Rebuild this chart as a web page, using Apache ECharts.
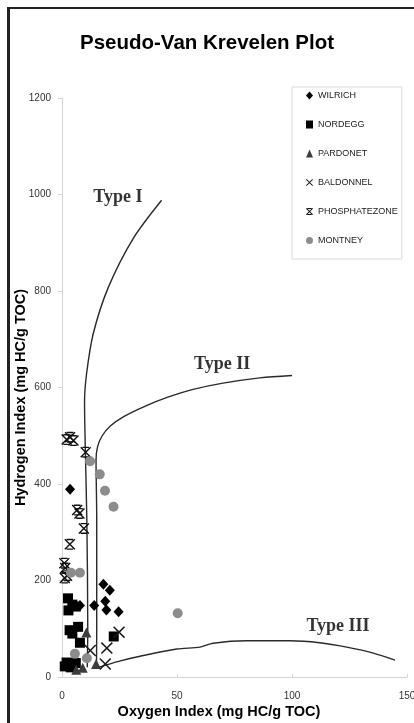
<!DOCTYPE html>
<html>
<head>
<meta charset="utf-8">
<script src="https://cdn.jsdelivr.net/npm/echarts@6/dist/echarts.min.js"></script>
<style>
html,body{margin:0;padding:0;background:#fff;}
#chart{width:414px;height:723px;}
</style>
</head>
<body>
<div id="chart"></div>
<script>
// ---- data ----
const xTicks = [0, 50, 100, 150];
const yTicks = [0, 200, 400, 600, 800, 1000, 1200];
const seriesNames = ['WILRICH', 'NORDEGG', 'PARDONET', 'BALDONNEL', 'PHOSPHATEZONE', 'MONTNEY'];

const wilrich = [[3.5,389],[18,192],[20.8,180],[18.8,157],[14,148],[7.8,148],[19.3,139],[24.6,135]];
const nordegg = [[2.6,163],[4.5,150],[2.8,138],[6,146],[3.3,97],[7,104],[4.5,90],[22.5,84],[7.8,71],[2,30],[6,29],[3.8,20],[1.2,22]];
const pardonet = [[10.6,92],[9,19],[14.8,27],[6.2,15]];
const baldonnel = [[24.8,93],[12.3,55],[19.5,60],[18.8,27]];
const phosphatezone = [[2,492],[3.5,497],[5,490],[10.3,466],[6.6,346],[7.6,339],[9.5,308],[3.4,275],[1,236],[1.4,226],[1.2,205],[2.2,210]];
const montney = [[12.2,447],[16.4,420],[18.7,386],[22.4,353],[3.9,216],[7.8,216],[5.6,48],[10.8,39],[50.3,132]];

const typeI = [[11,20],[11.2,100],[10.8,325],[10.1,480],[9.8,570],[10.7,629],[13.6,712],[20.1,807],[31,909],[43.3,988]];
const typeII = [[15,25],[15.1,100],[15.1,325],[14.8,450],[15.5,478],[17.5,500],[21,520],[27,540],[36,561],[46,580],[57,596],[70,609],[86,620],[100,625]];
const typeIII = [[15,18],[16.5,21],[25,33],[33.9,43],[49.9,58],[60,62],[65.7,70],[80.3,75],[99.1,75],[112,71],[123.8,62],[135,50],[144.8,35]];

const curveLabels = [
  {name: 'Type I', value: [24.3, 995]},
  {name: 'Type II', value: [69.6, 648]},
  {name: 'Type III', value: [120, 106]}
];

// ---- symbols ----
const xPath = 'path://M0,0.9L0.9,0L5,4.1L9.1,0L10,0.9L5.9,5L10,9.1L9.1,10L5,5.9L0.9,10L0,9.1L4.1,5Z';
const starPath = 'path://M0,0.9L0.9,0L5,4.1L9.1,0L10,0.9L5.9,5L10,9.1L9.1,10L5,5.9L0.9,10L0,9.1L4.1,5Z' +
  'M2,0L8,0L8,1.3L2,1.3Z M2,8.7L8,8.7L8,10L2,10Z';

const chart = echarts.init(document.getElementById('chart'));

function scatter(name, data, symbol, size, color) {
  return {
    name: name, type: 'scatter', data: data, symbol: symbol, symbolSize: size,
    itemStyle: {color: color, opacity: 1}, z: 3
  };
}
function curve(data) {
  return {
    type: 'line', data: data, showSymbol: false, symbol: 'none', smooth: 0.3,
    lineStyle: {color: '#2a2a2a', width: 1.4}, silent: true, z: 2
  };
}

chart.setOption({
  animation: false,
  backgroundColor: '#fff',
  title: {
    text: 'Pseudo-Van Krevelen Plot', left: 'center', top: 33, padding: 0,
    textStyle: {fontFamily: 'Liberation Sans, Arial, sans-serif', fontWeight: 'bold', fontSize: 20.5, color: '#000'}
  },
  graphic: [
    {type: 'line', shape: {x1: 8.5, y1: 7, x2: 8.5, y2: 730}, style: {stroke: '#222', lineWidth: 3}},
    {type: 'line', shape: {x1: 7, y1: 8, x2: 420, y2: 8}, style: {stroke: '#222', lineWidth: 2}}
  ],
  legend: {
    data: seriesNames, orient: 'vertical', left: 292, top: 87,
    padding: [4, 4, 14, 14],
    itemWidth: 7, itemHeight: 8, itemGap: 20,
    borderColor: '#d9d9d9', borderWidth: 1,
    textStyle: {fontFamily: 'Liberation Sans, Arial, sans-serif', fontSize: 9, color: '#222'}
  },
  grid: {left: 62, right: 7, top: 98, bottom: 46, outerBoundsMode: 'none', containLabel: false},
  xAxis: {
    type: 'value', min: 0, max: 150, interval: 50,
    name: 'Oxygen Index (mg HC/g TOC)', nameLocation: 'middle', nameGap: 27, nameMoveOverlap: false,
    nameTextStyle: {fontFamily: 'Liberation Sans, Arial, sans-serif', fontWeight: 'bold', fontSize: 14.5, color: '#000', padding: [0, 31, 0, 0]},
    axisLine: {show: true, lineStyle: {color: '#d4d4d4'}},
    axisTick: {show: true, inside: true, length: 3, lineStyle: {color: '#d4d4d4'}},
    splitLine: {show: false},
    axisLabel: {margin: 14, fontFamily: 'Liberation Sans, Arial, sans-serif', fontSize: 10, color: '#333',
      formatter: function (v) { return String(v); }}
  },
  yAxis: {
    type: 'value', min: 0, max: 1200, interval: 200,
    name: 'Hydrogen Index (mg HC/g TOC)', nameLocation: 'middle', nameGap: 34, nameMoveOverlap: false,
    nameTextStyle: {fontFamily: 'Liberation Sans, Arial, sans-serif', fontWeight: 'bold', fontSize: 14.5, color: '#000', padding: [0, 20, 0, 0]},
    axisLine: {show: true, lineStyle: {color: '#d4d4d4'}},
    axisTick: {show: true, inside: false, length: 4, lineStyle: {color: '#d4d4d4'}},
    splitLine: {show: false},
    axisLabel: {margin: 11, fontFamily: 'Liberation Sans, Arial, sans-serif', fontSize: 10, color: '#333',
      formatter: function (v) { return String(v); }}
  },
  series: [
    curve(typeI), curve(typeII), curve(typeIII),
    scatter('WILRICH', wilrich, 'diamond', [10, 11], '#000'),
    scatter('NORDEGG', nordegg, 'rect', 10, '#000'),
    scatter('PARDONET', pardonet, 'triangle', 10, '#3c3c3c'),
    scatter('BALDONNEL', baldonnel, xPath, 12, '#1a1a1a'),
    scatter('PHOSPHATEZONE', phosphatezone, starPath, 11, '#111'),
    scatter('MONTNEY', montney, 'circle', 10, '#8c8c8c'),
    {
      type: 'scatter', data: curveLabels, symbolSize: 1, silent: true,
      itemStyle: {color: 'rgba(0,0,0,0)'},
      label: {show: true, position: 'inside', formatter: '{b}',
        fontFamily: 'Liberation Serif, Times New Roman, serif', fontWeight: 'bold', fontSize: 18, color: '#000'},
      z: 4
    }
  ]
});
</script>
</body>
</html>
